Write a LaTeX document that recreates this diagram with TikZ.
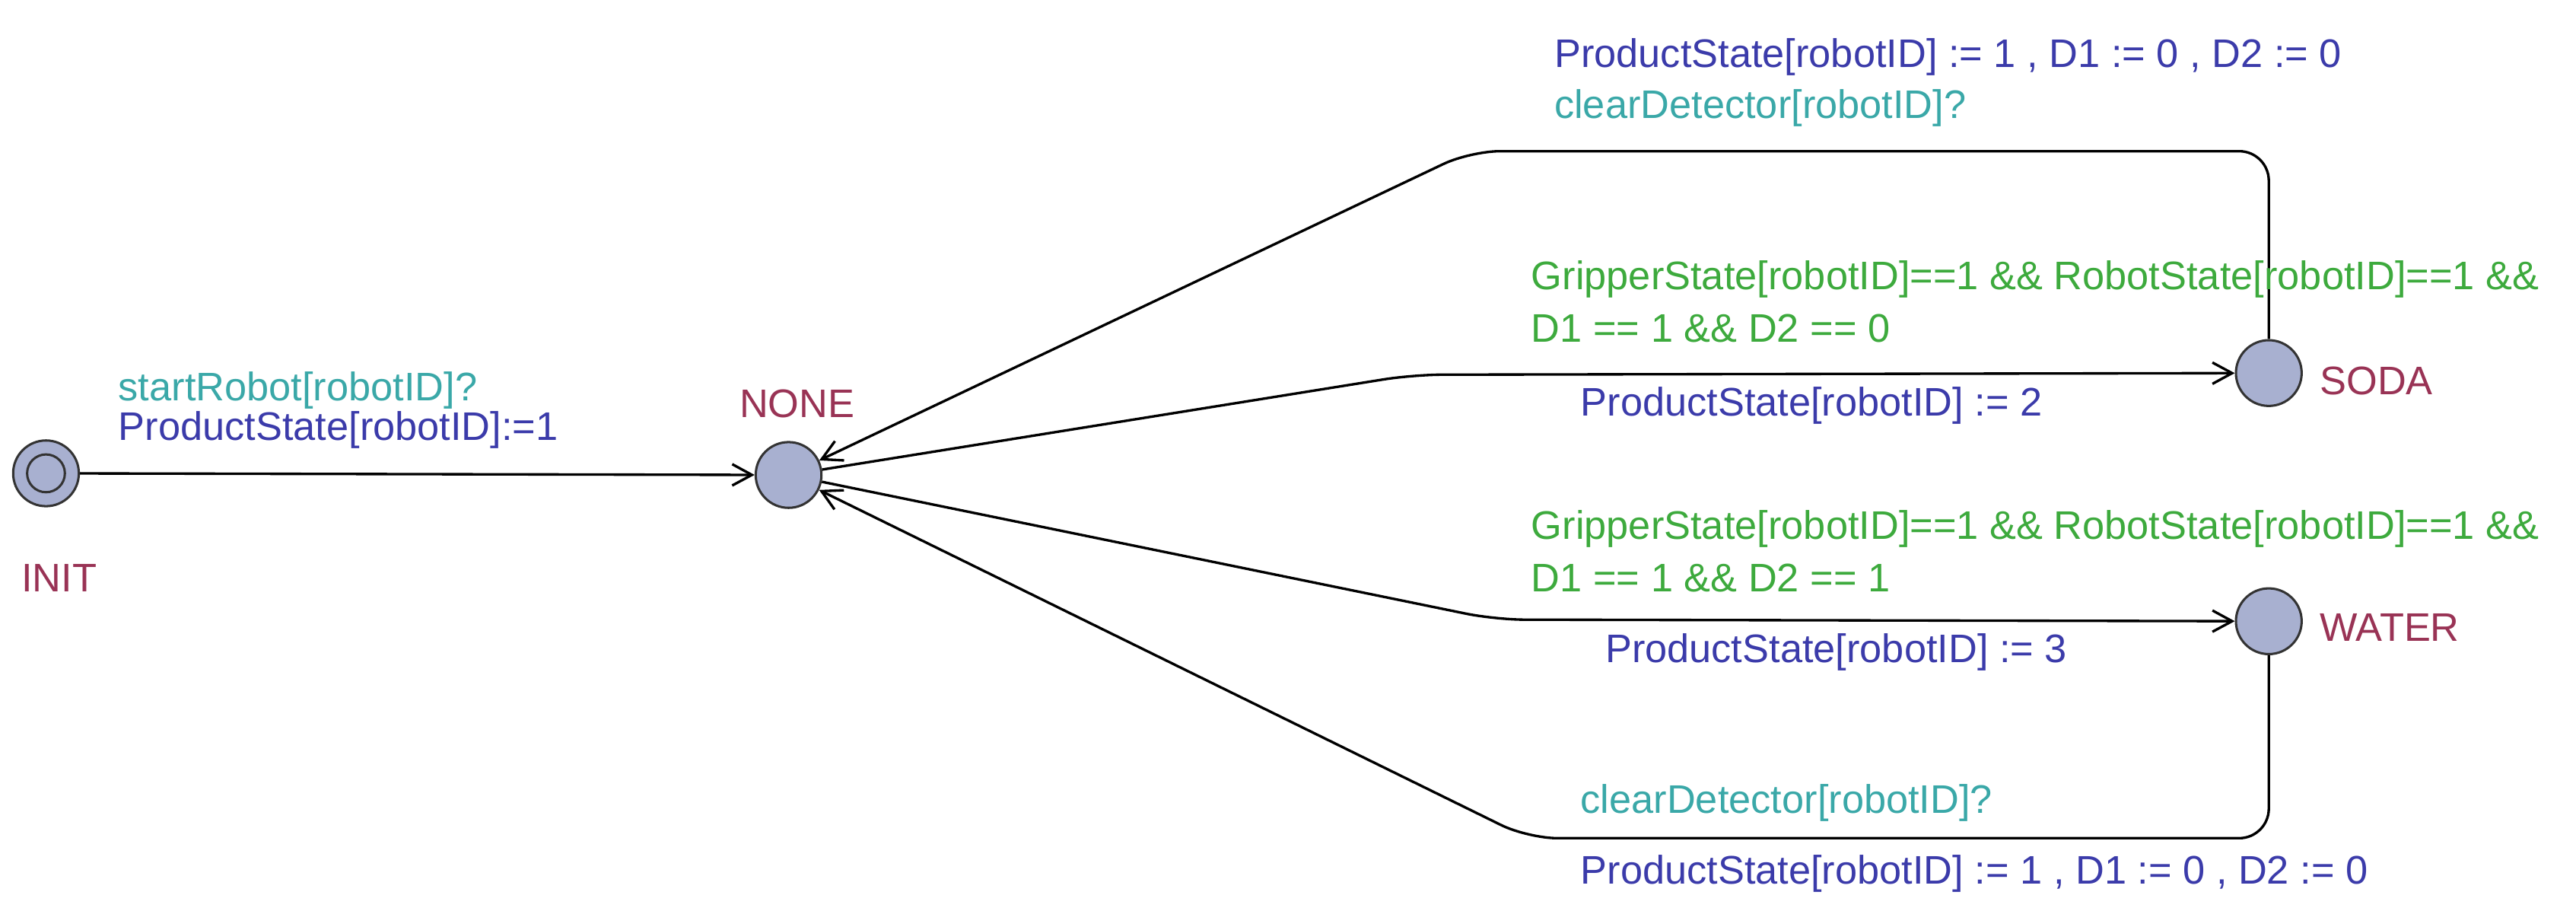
\documentclass[tikz,border=0pt]{standalone}
\usepackage{fontspec}
\setmainfont{Liberation Sans}
\usetikzlibrary{arrows.meta}
\definecolor{loc}{HTML}{993355}
\definecolor{grd}{HTML}{3DAA3D}
\definecolor{syn}{HTML}{3AA8A8}
\definecolor{upd}{HTML}{3B3BAA}
\definecolor{stf}{HTML}{A8B0D0}
\begin{document}
\begin{tikzpicture}[x=0.05cm,y=-0.05cm,
  state/.style={circle,draw=black!80,fill=stf,line width=2pt,minimum size=2cm,inner sep=0pt},
  edge/.style={line width=2.2pt,rounded corners=0.9cm,-{Straight Barb[length=0.6cm,width=0.65cm,line width=2.2pt]}},
  lbl/.style={anchor=base west,font=\fontsize{34.5}{40}\selectfont,inner sep=0pt},
  nm/.style={lbl,text=loc}]
\useasboundingbox (0,0) rectangle (1568,554);
\node[state] (init) at (28,288) {};
\node[circle,draw=black!80,line width=2pt,minimum size=1.15cm,inner sep=0pt] (initi) at (28,288) {};
\node[state] (none) at (480,289) {};
\node[state] (soda) at (1381,227) {};
\node[state] (water) at (1381,378) {};
\node[nm] (lInit) at (13,360) {INIT};
\node[nm] (lNone) at (450,254) {NONE};
\node[nm] (lSoda) at (1412,240) {SODA};
\node[nm] (lWater) at (1412,390) {WATER};
\coordinate (c1) at (860,228);
\coordinate (c2a) at (1381,92);
\coordinate (c2b) at (895,92);
\coordinate (c3) at (910,377);
\coordinate (c4a) at (1381,510);
\coordinate (c4b) at (930,510);
\draw[edge] (init) -- (none);
\draw[edge] (none) -- (c1) -- (soda);
\draw[edge] (soda) -- (c2a) -- (c2b) -- (none);
\draw[edge] (none) -- (c3) -- (water);
\draw[edge] (water) -- (c4a) -- (c4b) -- (none);
\node[lbl,text=syn] (t1) at (72,244) {startRobot[robotID]?};
\node[lbl,text=upd] (t2) at (72,268) {ProductState[robotID]:=1};
\node[lbl,text=upd] (t3) at (946,41) {ProductState[robotID] := 1 , D1 := 0 , D2 := 0};
\node[lbl,text=syn] (t4) at (946,72) {clearDetector[robotID]?};
\node[lbl,text=grd] (t5) at (932,176) {GripperState[robotID]==1 \&\& RobotState[robotID]==1 \&\&};
\node[lbl,text=grd] (t6) at (932,208) {D1 == 1 \&\& D2 == 0};
\node[lbl,text=upd] (t7) at (962,253) {ProductState[robotID] := 2};
\node[lbl,text=grd] (t8) at (932,328) {GripperState[robotID]==1 \&\& RobotState[robotID]==1 \&\&};
\node[lbl,text=grd] (t9) at (932,360) {D1 == 1 \&\& D2 == 1};
\node[lbl,text=upd] (t10) at (977,403) {ProductState[robotID] := 3};
\node[lbl,text=syn] (t11) at (962,495) {clearDetector[robotID]?};
\node[lbl,text=upd] (t12) at (962,538) {ProductState[robotID] := 1 , D1 := 0 , D2 := 0};
\end{tikzpicture}
\end{document}
